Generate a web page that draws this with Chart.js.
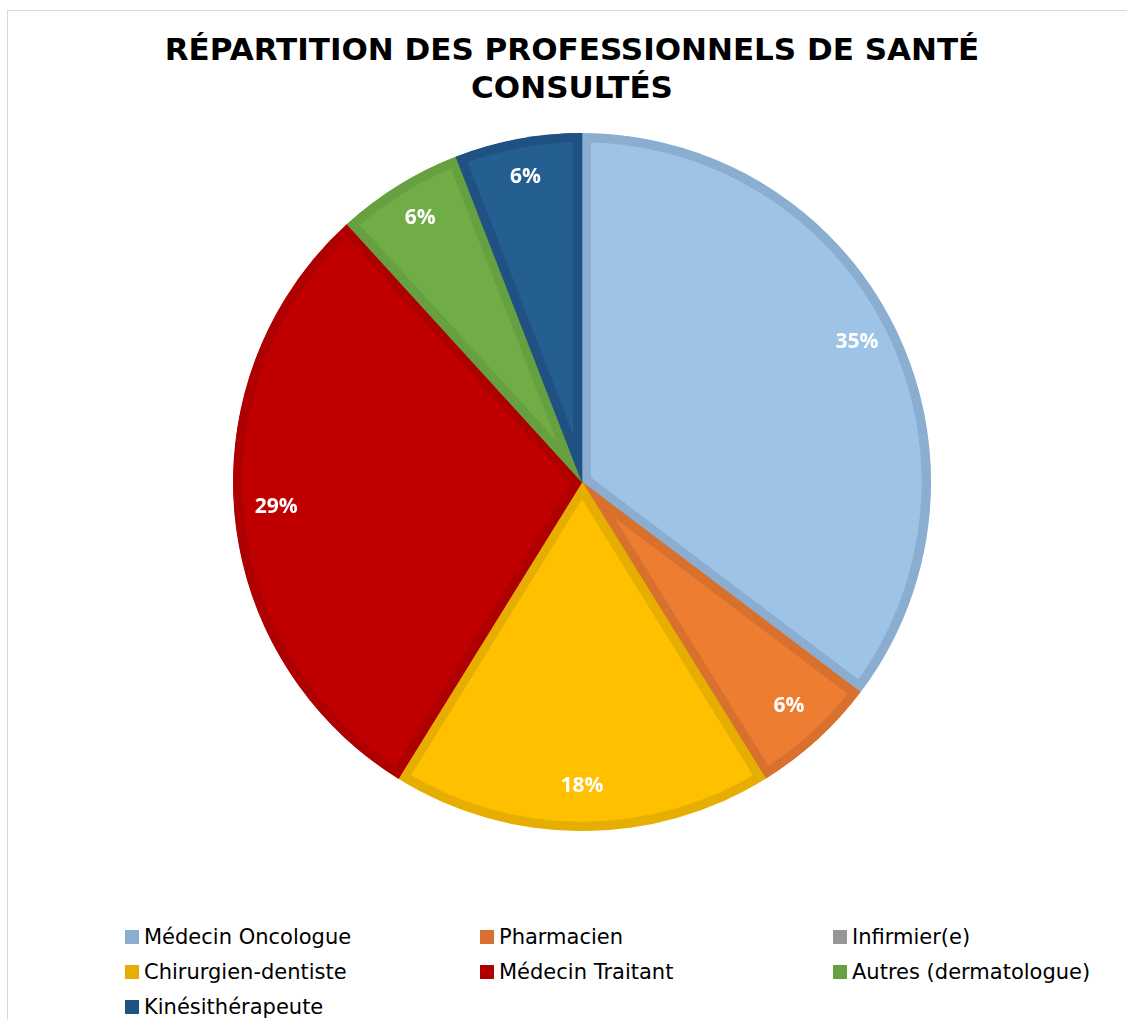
<!DOCTYPE html>
<html>
<head>
<meta charset="utf-8">
<script src="https://cdn.jsdelivr.net/npm/chart.js@4"></script>
<style>
  body { margin: 0; background: #fff; width: 1127px; height: 1020px; overflow: hidden; position: relative; }
  .frame { position: absolute; left: 7px; top: 10px; width: 1200px; height: 1100px;
           border-top: 1px solid #d9d9d9; border-left: 1px solid #d9d9d9; }
  .title { position: absolute; left: 0; width: 1144px; top: 30px; text-align: center;
           font-family: "DejaVu Sans", sans-serif; font-weight: bold;
           font-size: 31px; line-height: 38px; color: #000; }
  #pieWrap { position: absolute; left: 222px; top: 122px; width: 720px; height: 720px; }
  .legend { position: absolute; left: 0; top: 0; font-family: "DejaVu Sans", sans-serif;
            font-size: 21px; color: #000; }
  .legend .item { position: absolute; white-space: nowrap; line-height: 24px; }
  .legend .sw { display: inline-block; width: 14px; height: 14px; margin-right: 5px; vertical-align: 0px; }
</style>
</head>
<body>
<div class="frame"></div>
<div class="title" id="title"></div>
<div id="pieWrap"><canvas id="pieChart" width="720" height="720"></canvas></div>
<div class="legend" id="legend"></div>
<script>
// data
const titleLines = ['RÉPARTITION DES PROFESSIONNELS DE SANTÉ', 'CONSULTÉS'];
const categories = ['Médecin Oncologue', 'Pharmacien', 'Infirmier(e)', 'Chirurgien-dentiste',
                    'Médecin Traitant', 'Autres (dermatologue)', 'Kinésithérapeute'];
const counts = [6, 1, 0, 3, 5, 1, 1];
const fillColors = ['#9dc3e6', '#ed7d31', '#a5a5a5', '#ffc000', '#c00000', '#70ad47', '#255e91'];
const edgeColors = ['#8aadd0', '#d8712d', '#969696', '#e6ae00', '#ae0000', '#66a041', '#1f5283'];

document.getElementById('title').innerHTML = titleLines.join('<br>');

// legend in 3 columns like the excel one
const legendCols = [125, 480, 833];
const legendRows = [925, 960, 995];
const legendEl = document.getElementById('legend');
categories.forEach((c, i) => {
  const d = document.createElement('div');
  d.className = 'item';
  d.style.left = legendCols[i % 3] + 'px';
  d.style.top = legendRows[Math.floor(i / 3)] + 'px';
  d.innerHTML = '<span class="sw" style="background:' + edgeColors[i] + '"></span>' + c;
  legendEl.appendChild(d);
});

// percentage labels inside the slices
const pctLabels = {
  id: 'pctLabels',
  afterDatasetsDraw(chart) {
    const ctx = chart.ctx;
    const meta = chart.getDatasetMeta(0);
    const total = counts.reduce((a, b) => a + b, 0);
    ctx.save();
    ctx.font = 'bold 21px "Open Sans", sans-serif';
    ctx.fillStyle = '#fff';
    ctx.textAlign = 'center';
    ctx.textBaseline = 'middle';
    meta.data.forEach((arc, i) => {
      if (!counts[i]) return;
      const p = arc.getProps(['x', 'y', 'startAngle', 'endAngle', 'outerRadius'], true);
      const mid = (p.startAngle + p.endAngle) / 2;
      const r = p.outerRadius * 0.88;
      ctx.fillText(Math.round(counts[i] / total * 100) + '%', p.x + Math.cos(mid) * r, p.y + Math.sin(mid) * r - 3);
    });
    ctx.restore();
  }
};

new Chart(document.getElementById('pieChart').getContext('2d'), {
  type: 'pie',
  data: {
    labels: categories,
    datasets: [{
      data: counts,
      backgroundColor: fillColors,
      borderColor: edgeColors,
      borderWidth: 9,
      borderAlign: 'inner',
      hoverOffset: 0
    }]
  },
  options: {
    responsive: false,
    animation: false,
    radius: 349,
    layout: { padding: 0 },
    plugins: {
      legend: { display: false },
      tooltip: { enabled: false },
      title: { display: false }
    }
  },
  plugins: [pctLabels]
});
</script>
</body>
</html>
